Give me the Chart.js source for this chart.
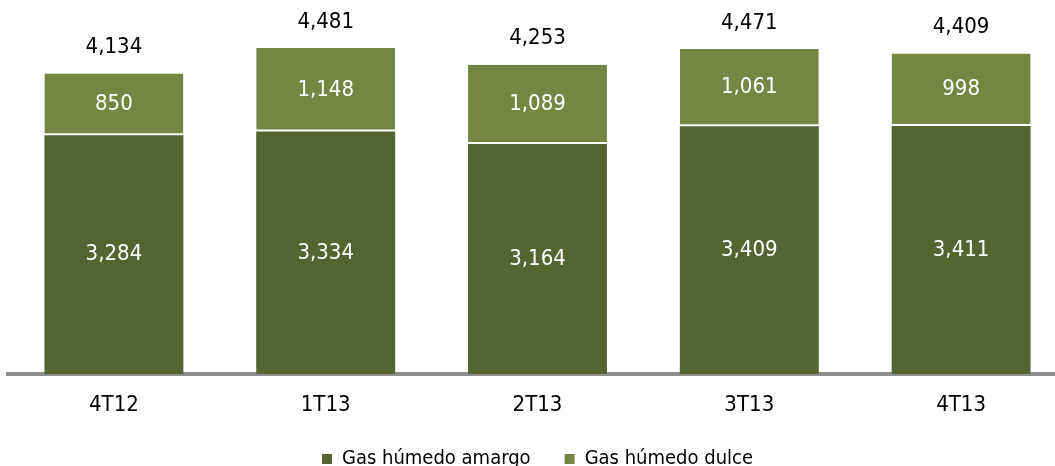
<!DOCTYPE html>
<html>
<head>
<meta charset="utf-8">
<script src="https://cdn.jsdelivr.net/npm/chart.js@4"></script>
<style>
  html, body { margin: 0; padding: 0; background: #fff; overflow: hidden; }
  #wrap { width: 1055px; height: 466px; overflow: hidden; position: relative; }
  #wrap canvas { position: absolute; left: 0; top: 0; }
</style>
</head>
<body>
<div id="wrap"><canvas id="chart" width="1067" height="479" style="width:1067px;height:479px"></canvas></div>
<script>
// datos
const quarters = ['4T12', '1T13', '2T13', '3T13', '4T13'];
const amargo = [3284, 3334, 3164, 3409, 3411];
const dulce = [850, 1148, 1089, 1061, 998];
const totals = [4134, 4481, 4253, 4471, 4409];
const seriesNames = ['Gas húmedo amargo', 'Gas húmedo dulce'];

const FONT = '"DejaVu Sans Condensed", "DejaVu Sans", sans-serif';
const fmt = v => v.toLocaleString('en-US');

// etiquetas de valores dentro de las barras y totales arriba
const valueLabels = {
  id: 'valueLabels',
  afterDatasetsDraw(chart) {
    const ctx = chart.ctx;
    ctx.save();
    ctx.font = '22px ' + FONT;
    ctx.textAlign = 'center';
    ctx.textBaseline = 'middle';
    chart.data.datasets.forEach((ds, i) => {
      const meta = chart.getDatasetMeta(i);
      meta.data.forEach((bar, j) => {
        const p = bar.getProps(['x', 'y', 'base'], true);
        ctx.fillStyle = '#ffffff';
        ctx.fillText(fmt(ds.data[j]), p.x, (p.y + p.base) / 2);
      });
    });
    const yScale = chart.scales.y;
    chart.getDatasetMeta(1).data.forEach((bar, j) => {
      ctx.fillStyle = '#000000';
      ctx.fillText(fmt(totals[j]), bar.x, yScale.getPixelForValue(totals[j]) - 26);
    });
    ctx.restore();
  }
};

new Chart(document.getElementById('chart'), {
  type: 'bar',
  data: {
    labels: quarters,
    datasets: [
      {
        label: seriesNames[0],
        data: amargo,
        backgroundColor: '#546531',
        borderWidth: 0
      },
      {
        label: seriesNames[1],
        data: dulce,
        backgroundColor: '#748641',
        borderColor: '#ffffff',
        borderWidth: { top: 0, left: 0, right: 0, bottom: 2 },
        borderSkipped: false
      }
    ]
  },
  options: {
    responsive: false,
    animation: false,
    layout: { padding: { left: 8, right: 0, top: 9, bottom: 0 } },
    datasets: {
      bar: { categoryPercentage: 0.656, barPercentage: 1 }
    },
    scales: {
      x: {
        stacked: true,
        grid: { display: false, drawTicks: false },
        border: { display: true, color: '#8f8f8f', width: 4 },
        ticks: {
          color: '#000000',
          padding: 20,
          font: { family: FONT, size: 22, lineHeight: 1.0 }
        },
        // la caja del eje se reduce para bajar el área del gráfico
        afterFit(scale) { scale.height -= 21; }
      },
      y: {
        stacked: true,
        display: false,
        min: 0,
        max: 5020
      }
    },
    plugins: {
      tooltip: { enabled: false },
      legend: {
        position: 'bottom',
        labels: {
          boxWidth: 10,
          boxHeight: 10,
          padding: 34,
          color: '#000000',
          font: { family: FONT, size: 20 },
          generateLabels(chart) {
            const items = Chart.defaults.plugins.legend.labels.generateLabels(chart);
            items.forEach(it => { it.lineWidth = 0; it.strokeStyle = 'rgba(0,0,0,0)'; });
            return items;
          }
        }
      }
    }
  },
  plugins: [valueLabels]
});
</script>
</body>
</html>
